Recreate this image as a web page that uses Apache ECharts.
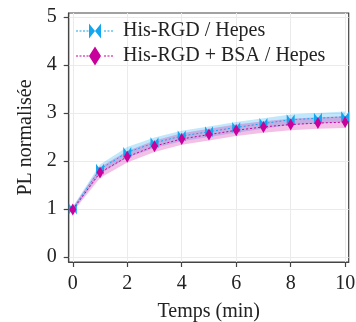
<!DOCTYPE html>
<html><head><meta charset="utf-8">
<script src="https://cdn.jsdelivr.net/npm/echarts@6/dist/echarts.min.js"></script>
<style>html,body{margin:0;padding:0;background:#fff}#c{width:356px;height:322px}</style>
</head><body><div id="c"></div>
<script>
const times = [0,1,2,3,4,5,6,7,8,9,10];
const hisHepes = [1.00,1.83,2.18,2.38,2.52,2.61,2.70,2.78,2.86,2.89,2.92];
const hisHepesErr = [0.05,0.1,0.11,0.11,0.11,0.11,0.11,0.11,0.11,0.11,0.11];
const bsaHepes = [0.99,1.76,2.09,2.31,2.46,2.55,2.64,2.71,2.76,2.79,2.81];
const bsaHepesErr = [0.05,0.11,0.12,0.12,0.12,0.12,0.12,0.12,0.12,0.12,0.12];
const xTicks = [0,2,4,6,8,10];
const yTicks = [0,1,2,3,4,5];
const names = ['His-RGD / Hepes','His-RGD + BSA / Hepes'];

const font = 'Liberation Serif';
const cyan = '#12A6EE', mag = '#C8009C';
const bowtie = 'path://M0,0L5,5L0,10Z M10,0L5,5L10,10Z';
const diamond = 'path://M3,0L6,5L3,10L0,5Z';

// legend icon: dashed line + enlarged marker, in a 38x20 box
function dashes(){
  let p = '';
  for (let x = 0; x < 38; x += 3.5) {
    if (x > 12 && x < 25) continue;
    const x2 = Math.min(x + 2, 38);
    p += 'M' + x + ',9.5L' + x2 + ',9.5L' + x2 + ',10.5L' + x + ',10.5Z';
  }
  return p + 'M0,0L0.01,0L0,0.01Z M38,20L37.99,20L38,19.99Z';
}
const bowtieIcon = 'path://' + dashes() + 'M13,2.5L19,10L13,17.5Z M25,2.5L19,10L25,17.5Z';
const diamondIcon = 'path://' + dashes() + 'M19,0.5L25,10L19,19.5L13,10Z';

function band(vals, errs, color){
  const data = times.map((t,i)=>[t, vals[i]-errs[i], vals[i]+errs[i]]);
  return {
    type:'custom', silent:true, z:1, data:data,
    encode:{x:0, y:[1,2]},
    renderItem:function(params, api){
      if (params.dataIndex !== 0) return null;
      const up = data.map(d=>api.coord([d[0], d[2]]));
      const lo = data.map(d=>api.coord([d[0], d[1]])).reverse();
      return {type:'polygon', shape:{points: up.concat(lo)}, style:{fill:color}};
    }
  };
}

const chart = echarts.init(document.getElementById('c'), null, {renderer:'canvas'});
chart.setOption({
  animation:false,
  grid:{left:68.7, right:7.3, top:13, bottom:60, show:true, borderColor:'#444', borderWidth:1.2, containLabel:false, outerBoundsMode:'none'},
  legend:{
    data:[{name:names[0], icon:bowtieIcon}, {name:names[1], icon:diamondIcon}],
    left:74, top:19, orient:'vertical', itemGap:5, itemWidth:38, itemHeight:20,
    textStyle:{fontFamily:font, fontSize:20, color:'#222', padding:[0,0,0,4]}, padding:[2,2,2,2]
  },
  xAxis:{
    type:'value', min:-0.15, max:10.13,
    name:'Temps (min)', nameLocation:'middle', nameGap:40,
    nameTextStyle:{fontFamily:font, fontSize:20, color:'#222'},
    axisLine:{show:true, onZero:false, lineStyle:{color:'#444', width:1.2}},
    axisTick:{show:true, length:5, customValues:xTicks, lineStyle:{color:'#444', width:1.2}},
    axisLabel:{customValues:xTicks, fontFamily:font, fontSize:20, color:'#222', margin:12},
    splitLine:{show:true, lineStyle:{color:'#ebebeb', width:1}}
  },
  yAxis:{
    type:'value', min:-0.1, max:5.08,
    name:'PL normalisée', nameLocation:'middle', nameGap:29,
    nameTextStyle:{fontFamily:font, fontSize:20, color:'#222'},
    axisLine:{show:true, onZero:false, lineStyle:{color:'#444', width:1.2}},
    axisTick:{show:true, length:5, customValues:yTicks, lineStyle:{color:'#444', width:1.2}},
    axisLabel:{customValues:yTicks, fontFamily:font, fontSize:20, color:'#222', margin:12},
    splitLine:{show:true, lineStyle:{color:'#ebebeb', width:1}}
  },
  series:[
    band(hisHepes, hisHepesErr, 'rgba(30,170,240,0.28)'),
    band(bsaHepes, bsaHepesErr, 'rgba(210,0,160,0.25)'),
    {name:names[0], type:'line', data: times.map((t,i)=>[t,hisHepes[i]]), symbol:bowtie, symbolSize:[8,11],
     itemStyle:{color:cyan}, lineStyle:{color:cyan, width:1, type:[2,2]}, z:3},
    {name:names[1], type:'line', data: times.map((t,i)=>[t,bsaHepes[i]]), symbol:diamond, symbolSize:[7,12],
     itemStyle:{color:mag}, lineStyle:{color:mag, width:1, type:[2,2]}, z:4}
  ]
});
</script></body></html>
